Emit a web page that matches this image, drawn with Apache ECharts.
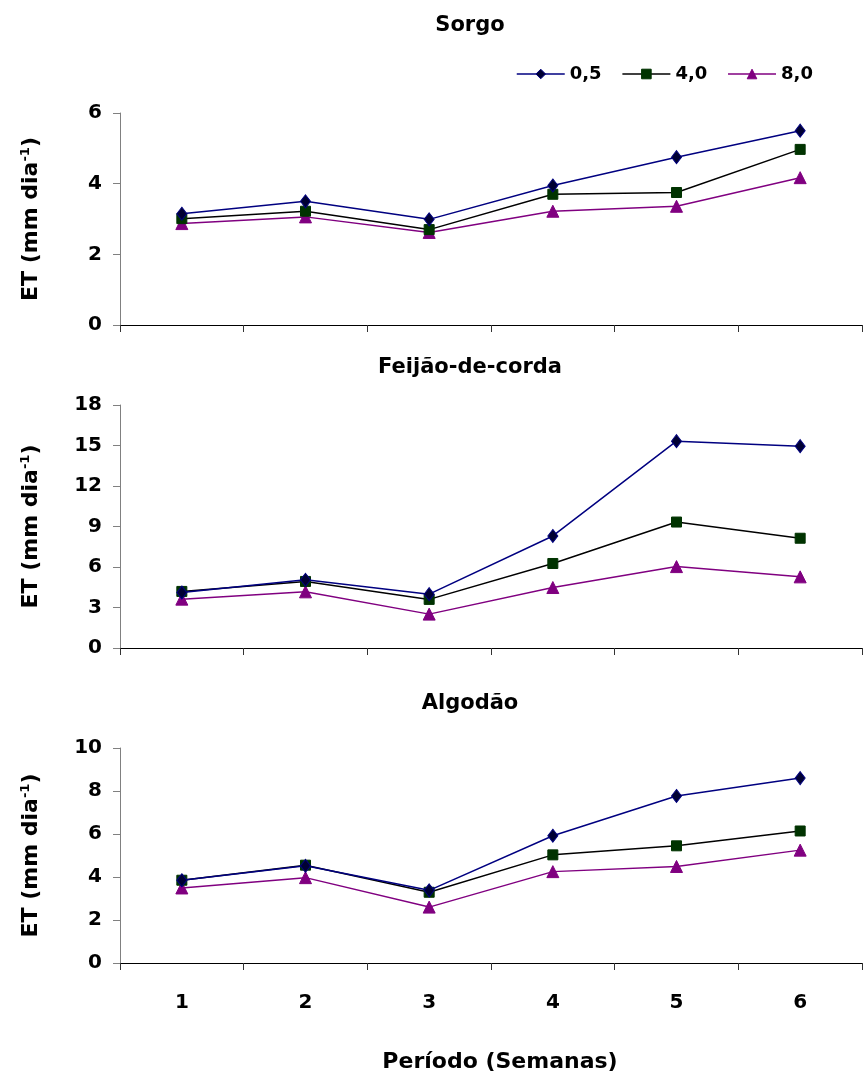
<!DOCTYPE html>
<html>
<head>
<meta charset="utf-8">
<script src="https://cdn.jsdelivr.net/npm/echarts@6/dist/echarts.min.js"></script>
<style>
  html, body { margin: 0; padding: 0; background: #ffffff; }
  #chart { width: 863px; height: 1078px; }
</style>
</head>
<body>
<div id="chart"></div>
<script>
// Weekly evapotranspiration (ET, mm/day) for three crops under three treatments
const semanas = ['1', '2', '3', '4', '5', '6'];
const tratamentos = ['0,5', '4,0', '8,0'];

const sorgo_05 = [3.15, 3.50, 2.99, 3.95, 4.75, 5.50];
const sorgo_40 = [3.01, 3.22, 2.70, 3.70, 3.75, 4.97];
const sorgo_80 = [2.87, 3.06, 2.62, 3.22, 3.36, 4.17];

const feijao_05 = [4.11, 5.05, 3.99, 8.30, 15.32, 14.95];
const feijao_40 = [4.19, 4.93, 3.60, 6.26, 9.33, 8.13];
const feijao_80 = [3.62, 4.16, 2.51, 4.48, 6.03, 5.27];

const algodao_05 = [3.85, 4.52, 3.38, 5.92, 7.77, 8.60];
const algodao_40 = [3.85, 4.55, 3.29, 5.03, 5.45, 6.14];
const algodao_80 = [3.49, 3.97, 2.60, 4.25, 4.49, 5.25];

const culturas = ['Sorgo', 'Feijão-de-corda', 'Algodão'];
const yMax = [6, 18, 10];
const yStep = [2, 3, 2];

const FONT = '"DejaVu Sans", Arial, sans-serif';

const seriesData = [
  [sorgo_05, sorgo_40, sorgo_80],
  [feijao_05, feijao_40, feijao_80],
  [algodao_05, algodao_40, algodao_80]
];

// line + marker style per treatment
const styles = [
  { line: '#000080', fill: '#000033', border: '#000080', symbol: 'diamond', size: [10, 13] },
  { line: '#000000', fill: '#003300', border: '#003300', symbol: 'rect', size: 10 },
  { line: '#800080', fill: '#800080', border: '#800080', symbol: 'triangle', size: 12 }
];

const grids = [
  { left: 120, right: 1, top: 113, height: 212 },
  { left: 120, right: 1, top: 405, height: 243 },
  { left: 120, right: 1, top: 748, height: 215 }
];

const titleTops = [10, 352, 688];

const chart = echarts.init(document.getElementById('chart'), null, { renderer: 'canvas' });

const xAxes = grids.map((g, i) => ({
  type: 'category',
  gridIndex: i,
  data: semanas,
  boundaryGap: true,
  axisLine: { lineStyle: { color: '#000000', width: 1 } },
  axisTick: { show: true, inside: false, length: 7, lineStyle: { color: '#333333' } },
  axisLabel: {
    show: i === 2,
    margin: 30,
    fontFamily: FONT, fontWeight: 'bold', fontSize: 20, color: '#000000'
  },
  splitLine: { show: false },
  name: i === 2 ? 'Período (Semanas)' : '',
  nameLocation: 'middle',
  nameGap: 88,
  nameTextStyle: {
    fontFamily: FONT, fontWeight: 'bold', fontSize: 22, color: '#000000',
    padding: [0, 0, 0, 18]
  }
}));

const yAxes = grids.map((g, i) => ({
  type: 'value',
  gridIndex: i,
  min: 0,
  max: yMax[i],
  interval: yStep[i],
  axisLine: { show: true, lineStyle: { color: '#808080', width: 1 } },
  axisTick: { show: true, inside: false, length: 7, lineStyle: { color: '#808080' } },
  axisLabel: {
    margin: 18,
    fontFamily: FONT, fontWeight: 'bold', fontSize: 20, color: '#000000'
  },
  splitLine: { show: false },
  name: 'ET (mm dia{sup|-1})',
  nameLocation: 'middle',
  nameRotate: 90,
  nameGap: 77,
  nameTextStyle: {
    fontFamily: FONT, fontWeight: 'bold', fontSize: 22, color: '#000000',
    rich: {
      sup: { fontFamily: FONT, fontWeight: 'bold', fontSize: 13, color: '#000000', verticalAlign: 'top', padding: [0, 0, 11, 0] }
    }
  }
}));

const series = [];
seriesData.forEach((group, gi) => {
  group.forEach((vals, ti) => {
    const s = styles[ti];
    series.push({
      type: 'line',
      name: tratamentos[ti],
      xAxisIndex: gi,
      yAxisIndex: gi,
      data: vals,
      symbol: s.symbol,
      symbolSize: s.size,
      showAllSymbol: true,
      lineStyle: { color: s.line, width: 1.5 },
      itemStyle: { color: s.fill, borderColor: s.border, borderWidth: 1 },
      emphasis: { disabled: true },
      animation: false,
      z: 3 - ti
    });
  });
});

chart.setOption({
  backgroundColor: '#ffffff',
  animation: false,
  title: culturas.map((c, i) => ({
    text: c,
    left: 465,
    top: titleTops[i],
    textAlign: 'center',
    textStyle: { fontFamily: FONT, fontWeight: 'bold', fontSize: 21, color: '#000000' }
  })),
  legend: {
    data: tratamentos.map((t, i) => ({
      name: t,
      itemStyle: { color: styles[i].fill, borderColor: styles[i].border, borderWidth: 1 },
      lineStyle: { color: styles[i].line, width: 1.5 }
    })),
    left: 511,
    top: 60,
    itemWidth: 48,
    itemHeight: 12,
    itemGap: 20,
    textStyle: { fontFamily: FONT, fontWeight: 'bold', fontSize: 18, color: '#000000' }
  },
  grid: grids,
  xAxis: xAxes,
  yAxis: yAxes,
  series: series
});
</script>
</body>
</html>
